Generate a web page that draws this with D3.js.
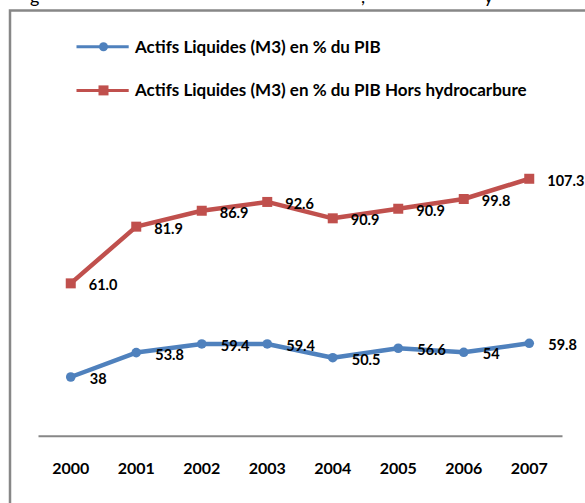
<!DOCTYPE html>
<html>
<head>
<meta charset="utf-8">
<script src="https://cdn.jsdelivr.net/npm/d3@7/dist/d3.min.js"></script>
<style>
  body { margin: 0; background: #fff; }
  text { font-family: Lato, "Open Sans", sans-serif; font-weight: bold; fill: #000; }
</style>
</head>
<body>
<div id="chart"></div>
<script>
//
// data
//
var years = ['2000', '2001', '2002', '2003', '2004', '2005', '2006', '2007']
var blueName = 'Actifs Liquides (M3) en % du PIB'
var redName = 'Actifs Liquides (M3) en % du PIB Hors hydrocarbure'
var blueValues = [38, 53.8, 59.4, 59.4, 50.5, 56.6, 54, 59.8]
// plotted positions of the red line
var redValues = [98.6, 135.3, 145.6, 151.3, 140.7, 146.9, 153.2, 166.3]
// the red labels as printed next to the points
var redLabels = ['61.0', '81.9', '86.9', '92.6', '90.9', '90.9', '99.8', '107.3']
var yDomain = [0, 180]
//
// draw
//
var width = 585, height = 503
var blue = '#4f81bd', red = '#c0504d', grey = '#878787'

var svg = d3.select('#chart')
  .append('svg')
  .attr('width', width)
  .attr('height', height)

// frame (clipped by the page edge)
svg.append('path')
  .attr('d', 'M10,' + (height + 5) + ' L10,10.5 L' + (width + 5) + ',10.5')
  .attr('fill', 'none')
  .attr('stroke', grey)
  .attr('stroke-width', 2.5)

// cut-off title descenders above the frame
var titleBits = [{t: 'g', x: 30}, {t: ',', x: 361}, {t: 'y', x: 484}]
svg.selectAll('.title-bit')
  .data(titleBits)
  .enter().append('text')
  .attr('class', 'title-bit')
  .attr('x', function(d) { return d.x })
  .attr('y', 3)
  .style('font-size', '18px')
  .style('font-weight', 'normal')
  .text(function(d) { return d.t })

var x = d3.scaleBand()
  .domain(years)
  .range([38, 562])

var y = d3.scaleLinear()
  .domain(yDomain)
  .range([435.7, 157.6])

function cx(i) { return x(years[i]) + x.bandwidth() / 2 }

// category axis
var xAxis = d3.axisBottom(x).tickSize(0).tickPadding(27)
var gx = svg.append('g')
  .attr('transform', 'translate(0,' + y(0) + ')')
  .call(xAxis)
gx.select('.domain')
  .attr('stroke', grey)
  .attr('stroke-width', 2)
gx.selectAll('text')
  .style('font-size', '16px')
  .style('font-family', 'Lato, sans-serif')
  .attr('fill', '#000')

var line = d3.line()
  .x(function(d, i) { return cx(i) })
  .y(function(d) { return y(d) })

// red series
svg.append('path')
  .attr('d', line(redValues))
  .attr('fill', 'none')
  .attr('stroke', red)
  .attr('stroke-width', 4.5)
  .attr('stroke-linejoin', 'round')

svg.selectAll('.red-pt')
  .data(redValues)
  .enter().append('rect')
  .attr('class', 'red-pt')
  .attr('x', function(d, i) { return cx(i) - 5 })
  .attr('y', function(d) { return y(d) - 5 })
  .attr('width', 10)
  .attr('height', 10)
  .attr('fill', red)

svg.selectAll('.red-lbl')
  .data(redValues)
  .enter().append('text')
  .attr('class', 'red-lbl')
  .attr('x', function(d, i) { return cx(i) + 18 })
  .attr('y', function(d) { return y(d) + 2 })
  .attr('dy', '0.35em')
  .style('font-size', '14.5px')
  .text(function(d, i) { return redLabels[i] })

// blue series
svg.append('path')
  .attr('d', line(blueValues))
  .attr('fill', 'none')
  .attr('stroke', blue)
  .attr('stroke-width', 4.5)
  .attr('stroke-linejoin', 'round')

svg.selectAll('.blue-pt')
  .data(blueValues)
  .enter().append('circle')
  .attr('class', 'blue-pt')
  .attr('cx', function(d, i) { return cx(i) })
  .attr('cy', function(d) { return y(d) })
  .attr('r', 4.8)
  .attr('fill', blue)

svg.selectAll('.blue-lbl')
  .data(blueValues)
  .enter().append('text')
  .attr('class', 'blue-lbl')
  .attr('x', function(d, i) { return cx(i) + 19 })
  .attr('y', function(d) { return y(d) + 2 })
  .attr('dy', '0.35em')
  .style('font-size', '14.5px')
  .text(function(d) { return String(d) })

// legend
var legend = [{name: blueName, color: blue, shape: 'circle', y: 46.8},
              {name: redName, color: red, shape: 'square', y: 90.4}]
var lg = svg.selectAll('.legend')
  .data(legend)
  .enter().append('g')
  .attr('class', 'legend')
  .attr('transform', function(d) { return 'translate(0,' + d.y + ')' })
lg.append('line')
  .attr('x1', 76.5).attr('x2', 128.7)
  .attr('stroke', function(d) { return d.color })
  .attr('stroke-width', 3)
lg.filter(function(d) { return d.shape == 'circle' })
  .append('circle')
  .attr('cx', 103.5).attr('r', 4.5)
  .attr('fill', function(d) { return d.color })
lg.filter(function(d) { return d.shape == 'square' })
  .append('rect')
  .attr('x', 98.5).attr('y', -5).attr('width', 10).attr('height', 10)
  .attr('fill', function(d) { return d.color })
lg.append('text')
  .attr('x', 135)
  .attr('dy', '0.35em')
  .style('font-size', '17px')
  .text(function(d) { return d.name })
</script>
</body>
</html>
